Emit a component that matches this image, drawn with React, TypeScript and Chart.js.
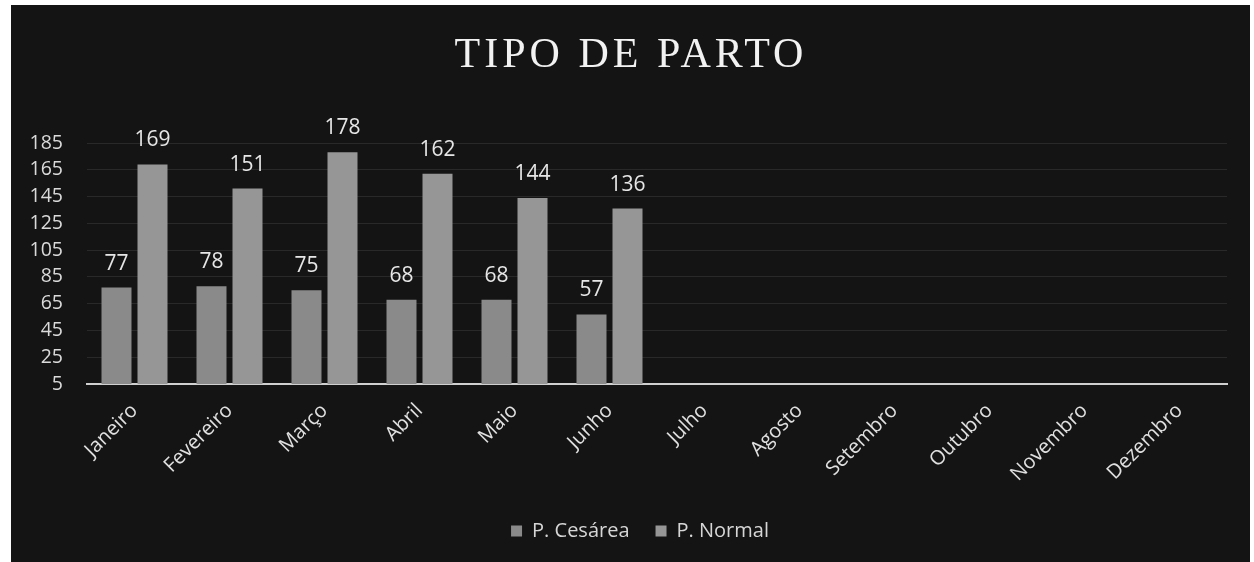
import React, { useEffect, useRef } from "react";
import { Chart, registerables } from "chart.js";

Chart.register(...registerables);

const months = [
  "Janeiro", "Fevereiro", "Março", "Abril", "Maio", "Junho",
  "Julho", "Agosto", "Setembro", "Outubro", "Novembro", "Dezembro",
];
const cesarea = [77, 78, 75, 68, 68, 57, null, null, null, null, null, null];
const normal = [169, 151, 178, 162, 144, 136, null, null, null, null, null, null];
const yMin = 5;
const yMax = 185;
const yStep = 20;

const FONT = "'Open Sans', 'Liberation Sans', sans-serif";

const valueLabels = {
  id: "valueLabels",
  afterDatasetsDraw(chart: any) {
    const ctx = chart.ctx;
    ctx.save();
    ctx.font = `21px ${FONT}`;
    ctx.fillStyle = "#e6e6e6";
    ctx.textAlign = "center";
    ctx.textBaseline = "alphabetic";
    chart.data.datasets.forEach((ds: any, di: number) => {
      const meta = chart.getDatasetMeta(di);
      meta.data.forEach((bar: any, i: number) => {
        const v = ds.data[i];
        if (v === null || v === undefined) return;
        ctx.fillText(String(v), bar.x, bar.y - 18);
      });
    });
    ctx.restore();
  },
};

// Shift/space the title and legend boxes a little to match the original placement
const boxTweaks = {
  id: "boxTweaks",
  afterLayout(chart: any) {
    const tb = chart.titleBlock;
    if (tb && !tb.__wrapped) {
      const orig = tb.draw;
      tb.draw = function (...args: any[]) {
        const ctx = this.ctx;
        ctx.save();
        ctx.letterSpacing = "4px";
        ctx.translate(7, 0);
        orig.apply(this, args);
        ctx.restore();
      };
      tb.__wrapped = true;
    }
    const lg = chart.legend;
    if (lg && !lg.__wrapped) {
      const origL = lg.draw;
      lg.draw = function (...args: any[]) {
        const ctx = this.ctx;
        ctx.save();
        ctx.translate(16, 0);
        origL.apply(this, args);
        ctx.restore();
      };
      lg.__wrapped = true;
    }
  },
};

export default function App() {
  const ref = useRef<HTMLCanvasElement | null>(null);
  useEffect(() => {
    if (!ref.current) return;
    const chart = new Chart(ref.current, {
      type: "bar",
      data: {
        labels: months,
        datasets: [
          {
            label: "P. Cesárea",
            data: cesarea,
            backgroundColor: "#8a8a8a",
            categoryPercentage: 0.758,
            barPercentage: 0.833,
          },
          {
            label: "P. Normal",
            data: normal,
            backgroundColor: "#969696",
            categoryPercentage: 0.758,
            barPercentage: 0.833,
          },
        ],
      },
      options: {
        responsive: false,
        animation: false,
        maintainAspectRatio: false,
        layout: { padding: { left: 10, right: 23, top: 0, bottom: 11 } },
        plugins: {
          title: {
            display: true,
            text: "TIPO DE PARTO",
            color: "#f2f2f2",
            font: { family: "'Liberation Serif', 'DejaVu Serif', serif", size: 42, weight: "normal" },
            padding: { top: 25.5, bottom: 62.1 },
          },
          legend: {
            position: "bottom",
            labels: {
              color: "#d6d6d6",
              font: { family: FONT, size: 20 },
              boxWidth: 11,
              boxHeight: 11,
              padding: 26,
            },
          },
          tooltip: { enabled: false },
        },
        scales: {
          x: {
            grid: { display: false, drawTicks: false },
            border: { display: true, color: "#d0d0d0", width: 2 },
            ticks: {
              color: "#e0e0e0",
              font: { family: FONT, size: 20 },
              maxRotation: 45,
              minRotation: 45,
              padding: 15,
              autoSkip: false,
            },
            afterFit(scale: any) {
              scale.height = 111;
            },
          },
          y: {
            min: yMin,
            max: yMax,
            grid: { color: "rgba(255,255,255,0.09)", drawTicks: false },
            border: { display: false },
            ticks: {
              stepSize: yStep,
              autoSkip: false,
              color: "#dadada",
              font: { family: FONT, size: 19.5 },
              padding: 24,
            },
            afterFit(scale: any) {
              scale.width = 66;
            },
          },
        },
      },
      plugins: [valueLabels, boxTweaks],
    });
    return () => chart.destroy();
  }, []);
  return (
    <div
      style={{
        position: "absolute",
        left: 11,
        top: 5,
        width: 1239,
        height: 557,
        background: "#141414",
      }}
    >
      <canvas ref={ref} width={1239} height={557} />
    </div>
  );
}
